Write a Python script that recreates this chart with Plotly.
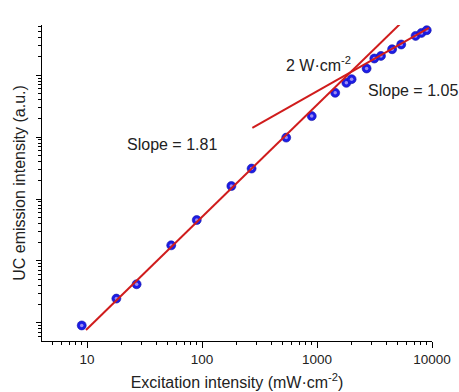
import numpy as np
import plotly.graph_objects as go

# Data (excitation in mW/cm^2, emission in a.u.)
excitation = [9, 18, 27, 54, 90, 180, 270, 540, 900, 1440, 1800, 2000,
              2700, 3150, 3600, 4500, 5400, 7200, 8100, 9000]
emission = [9.1, 24.7, 42.1, 179, 458, 1622, 3105, 9815, 21830, 51880,
            75170, 86130, 128200, 185800, 204600, 262400, 312600,
            430300, 481000, 532000]

# Linear fits in log-log space: log10(I) = slope*log10(P) + intercept
fit_low_slope, fit_low_intercept = 1.81, -0.91
fit_low_range = [9.8, 6450]
fit_high_slope, fit_high_intercept = 1.05, 1.591
fit_high_range = [274, 9420]

x_ticks = [10, 100, 1000, 10000]
x_ticktext = ["10", "100", "1000", "10000"]
y_ticks = [1e1, 1e2, 1e3, 1e4, 1e5]


def fit_line(rng, slope, intercept):
    lx = np.linspace(np.log10(rng[0]), np.log10(rng[1]), 50)
    return 10 ** lx, 10 ** (slope * lx + intercept)


fig = go.Figure()

# markers: blue spheres
fig.add_trace(go.Scatter(
    x=excitation, y=emission, mode="markers",
    marker=dict(size=9, color="#1c1ce6", line=dict(color="#1212a8", width=0.6)),
    showlegend=False, hoverinfo="skip"))
fig.add_trace(go.Scatter(
    x=excitation, y=emission, mode="markers",
    marker=dict(size=3.5, color="#9a8cf0", line=dict(width=0)),
    showlegend=False, hoverinfo="skip"))

for rng, s, b in [(fit_low_range, fit_low_slope, fit_low_intercept),
                  (fit_high_range, fit_high_slope, fit_high_intercept)]:
    fx, fy = fit_line(rng, s, b)
    fig.add_trace(go.Scatter(x=fx, y=fy, mode="lines",
                             line=dict(color="#d01c1c", width=2),
                             showlegend=False, hoverinfo="skip"))

font_family = "Liberation Sans, Arial, sans-serif"

fig.update_layout(
    width=459, height=392,
    margin=dict(l=42, r=27, t=25, b=51),
    paper_bgcolor="white", plot_bgcolor="white",
    font=dict(family=font_family, color="#222222", size=13),
    xaxis=dict(
        type="log", range=[0.6087, 4.0], automargin=False,
        tickvals=x_ticks, ticktext=x_ticktext,
        ticks="outside", ticklen=6, tickwidth=1, tickcolor="black",
        minor=dict(ticks="outside", ticklen=3, tickwidth=1, tickcolor="black",
                   dtick="D1", showgrid=False),
        showline=True, linecolor="black", linewidth=1.3,
        showgrid=False, zeroline=False,
        tickfont=dict(size=13.5),
        title=dict(text="Excitation intensity (mW·cm<sup>-2</sup>)",
                   font=dict(size=16), standoff=10),
    ),
    yaxis=dict(
        type="log", range=[0.708, 5.81], automargin=False,
        tickvals=y_ticks, showticklabels=False,
        ticks="outside", ticklen=5, tickwidth=1, tickcolor="black",
        minor=dict(ticks="outside", ticklen=3, tickwidth=1, tickcolor="black",
                   dtick="D1", showgrid=False),
        showline=True, linecolor="black", linewidth=1.3,
        showgrid=False, zeroline=False,
        title=dict(text="UC emission intensity (a.u.)",
                   font=dict(size=16), standoff=6),
    ),
)

fig.add_annotation(x=0.333, y=0.623, xref="paper", yref="paper",
                   text="Slope = 1.81", showarrow=False,
                   font=dict(size=16), xanchor="center", yanchor="middle")
fig.add_annotation(x=0.708, y=0.876, xref="paper", yref="paper",
                   text="2 W·cm<sup>-2</sup>", showarrow=False,
                   font=dict(size=16), xanchor="center", yanchor="middle")
fig.add_annotation(x=0.952, y=0.794, xref="paper", yref="paper",
                   text="Slope = 1.05", showarrow=False,
                   font=dict(size=16), xanchor="center", yanchor="middle")

fig.write_html("out.html")
